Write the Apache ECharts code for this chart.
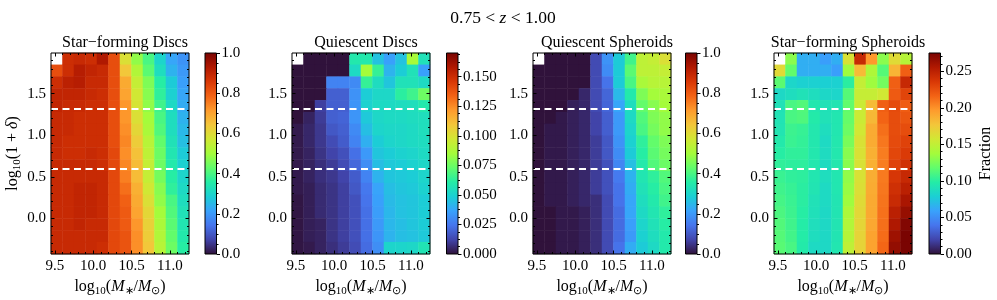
<!DOCTYPE html>
<html><head><meta charset="utf-8">
<script src="https://cdn.jsdelivr.net/npm/echarts@6/dist/echarts.min.js"></script>
<style>html,body{margin:0;padding:0;background:#fff}#c{width:997px;height:300px}</style>
</head><body><div id="c"></div>
<script>
// ---------------- DATA ----------------
const massBins = ['9.525','9.675','9.825','9.975','10.125','10.275','10.425','10.575','10.725','10.875','11.025','11.175'];
const densBins = ['-0.359','-0.217','-0.074','0.068','0.210','0.353','0.495','0.637','0.780','0.922','1.064','1.207','1.349','1.491','1.634','1.776','1.918'];
const massRange = [9.45, 11.25];
const densRange = [-0.43, 1.99];
const massTicks = [9.5, 10.0, 10.5, 11.0];
const densTicks = [0.0, 0.5, 1.0, 1.5];
const densityCuts = [1.32, 0.60];
const panelTitles = ['Star\u2212forming Discs', 'Quiescent Discs', 'Quiescent Spheroids', 'Star\u2212forming Spheroids'];
const cbarMax = [1.0, 0.17, 1.0, 0.275];
const cbarTicks = [
  [0.0, 0.2, 0.4, 0.6, 0.8, 1.0],
  [0.000, 0.025, 0.050, 0.075, 0.100, 0.125, 0.150],
  [0.0, 0.2, 0.4, 0.6, 0.8, 1.0],
  [0.00, 0.05, 0.10, 0.15, 0.20, 0.25]
];
const cbarDecimals = [1, 3, 1, 2];
const cbarMinorDiv = [4, 4, 4, 5];
const cbarLabel = ['', '', '', 'Fraction'];
// matplotlib "turbo" colormap sampled at 15 evenly spaced points
const turboStops = ['#30123b','#4145ab','#4675ed','#39a2fc','#1bcfd4','#24eca6','#61fc6c','#a4fc3b','#d1e834','#f3c63a','#fe9b2d','#f36315','#d93806','#b11901','#7a0402'];

// rows listed top (highest density) -> bottom, 12 mass bins each
const sfDiscs = [
  [null,0.88,0.89,0.88,0.93,0.82,0.59,0.48,0.40,0.30,0.22,0.19],
  [0.82,0.88,0.92,0.90,0.89,0.82,0.64,0.52,0.42,0.32,0.24,0.20],
  [0.88,0.91,0.92,0.89,0.89,0.82,0.69,0.55,0.46,0.36,0.28,0.21],
  [0.90,0.90,0.90,0.89,0.88,0.82,0.70,0.57,0.47,0.37,0.29,0.22],
  [0.90,0.89,0.89,0.88,0.88,0.82,0.72,0.58,0.48,0.39,0.31,0.23],
  [0.89,0.89,0.88,0.88,0.88,0.82,0.72,0.59,0.50,0.40,0.32,0.24],
  [0.89,0.89,0.88,0.88,0.88,0.82,0.73,0.61,0.51,0.41,0.32,0.25],
  [0.89,0.88,0.88,0.88,0.88,0.82,0.74,0.63,0.53,0.43,0.33,0.26],
  [0.89,0.88,0.88,0.89,0.88,0.83,0.73,0.65,0.54,0.44,0.34,0.28],
  [0.89,0.89,0.89,0.89,0.88,0.83,0.74,0.66,0.55,0.44,0.35,0.29],
  [0.89,0.89,0.89,0.89,0.89,0.83,0.75,0.66,0.55,0.45,0.36,0.30],
  [0.89,0.89,0.90,0.90,0.89,0.83,0.77,0.68,0.57,0.47,0.37,0.31],
  [0.89,0.89,0.90,0.90,0.89,0.83,0.79,0.69,0.59,0.48,0.40,0.32],
  [0.89,0.89,0.90,0.90,0.89,0.83,0.80,0.70,0.61,0.50,0.41,0.33],
  [0.89,0.89,0.90,0.89,0.89,0.83,0.80,0.72,0.62,0.51,0.42,0.34],
  [0.89,0.89,0.89,0.89,0.89,0.83,0.81,0.73,0.63,0.52,0.43,0.35],
  [0.89,0.89,0.89,0.89,0.88,0.83,0.81,0.73,0.64,0.53,0.44,0.36]
];
const qDiscs = [
  [null,0,0,0,0,0.059,0.059,0.045,0.036,0.045,0.086,0.056],
  [0,0,0,0,0,0.053,0.085,0.064,0.041,0.048,0.056,0.036],
  [0,0,0,0.028,0.028,0.030,0.064,0.054,0.046,0.056,0.056,0.053],
  [0,0,0,0.019,0.019,0.032,0.048,0.052,0.052,0.062,0.066,0.075],
  [0,0,0.011,0.019,0.019,0.033,0.050,0.053,0.053,0.054,0.055,0.059],
  [0,0.004,0.010,0.019,0.020,0.033,0.047,0.052,0.053,0.053,0.054,0.055],
  [0.002,0.005,0.009,0.017,0.019,0.030,0.044,0.051,0.052,0.052,0.053,0.055],
  [0.002,0.005,0.009,0.014,0.018,0.028,0.040,0.048,0.051,0.052,0.053,0.054],
  [0.002,0.004,0.008,0.012,0.015,0.023,0.034,0.046,0.048,0.050,0.051,0.053],
  [0.002,0.004,0.007,0.010,0.014,0.021,0.031,0.044,0.047,0.048,0.050,0.052],
  [0.002,0.004,0.007,0.009,0.012,0.018,0.028,0.041,0.046,0.047,0.048,0.051],
  [0.002,0.003,0.006,0.008,0.011,0.017,0.025,0.037,0.044,0.046,0.047,0.050],
  [0.001,0.003,0.006,0.008,0.011,0.015,0.024,0.036,0.043,0.045,0.046,0.048],
  [0.001,0.003,0.006,0.008,0.011,0.015,0.023,0.035,0.042,0.045,0.046,0.048],
  [0.001,0.003,0.004,0.008,0.011,0.015,0.023,0.034,0.042,0.044,0.046,0.048],
  [0.001,0.003,0.004,0.008,0.011,0.015,0.023,0.033,0.041,0.044,0.045,0.047],
  [0.001,0.002,0.004,0.007,0.010,0.014,0.022,0.031,0.051,0.051,0.052,0.057]
];
const qSpheroids = [
  [null,0,0,0,0,0.08,0.19,0.28,0.39,0.54,0.55,0.59],
  [0,0,0,0,0,0.08,0.18,0.28,0.42,0.54,0.54,0.55],
  [0,0,0,0,0,0.08,0.14,0.28,0.40,0.51,0.53,0.53],
  [0,0,0,0,0.03,0.08,0.12,0.25,0.35,0.46,0.50,0.51],
  [0,0,0,0.02,0.03,0.08,0.12,0.22,0.32,0.43,0.47,0.50],
  [0,0,0.01,0.02,0.03,0.07,0.11,0.20,0.31,0.41,0.46,0.48],
  [0,0.01,0.01,0.02,0.03,0.07,0.11,0.20,0.30,0.40,0.45,0.48],
  [0,0.01,0.01,0.02,0.03,0.06,0.10,0.19,0.29,0.37,0.43,0.46],
  [0,0.01,0.01,0.02,0.03,0.06,0.10,0.18,0.28,0.36,0.42,0.45],
  [0,0.01,0.01,0.02,0.03,0.06,0.09,0.17,0.26,0.35,0.41,0.44],
  [0,0.01,0.01,0.02,0.03,0.06,0.09,0.15,0.24,0.34,0.37,0.41],
  [0,0.01,0.01,0.02,0.03,0.06,0.09,0.14,0.23,0.33,0.36,0.40],
  [0,0.01,0.01,0.02,0.03,0.04,0.08,0.14,0.22,0.32,0.35,0.39],
  [0,0,0.01,0.01,0.02,0.04,0.08,0.13,0.22,0.31,0.34,0.37],
  [0,0,0.01,0.01,0.02,0.04,0.08,0.13,0.21,0.30,0.33,0.36],
  [0,0,0.01,0.01,0.02,0.04,0.08,0.13,0.20,0.29,0.32,0.35],
  [0,0,0.01,0.01,0.02,0.04,0.08,0.14,0.23,0.28,0.31,0.35]
];
const sfSpheroids = [
  [null,0.130,0.064,0.064,0.057,0.064,0.161,0.245,0.197,0.130,0.165,0.145],
  [0.166,0.118,0.064,0.064,0.064,0.057,0.136,0.182,0.142,0.114,0.185,0.218],
  [0.116,0.083,0.080,0.080,0.079,0.080,0.100,0.151,0.136,0.123,0.218,0.245],
  [0.085,0.088,0.091,0.088,0.084,0.083,0.114,0.152,0.152,0.157,0.220,0.230],
  [0.091,0.110,0.113,0.095,0.091,0.093,0.118,0.154,0.182,0.218,0.227,0.219],
  [0.092,0.110,0.112,0.097,0.091,0.094,0.119,0.154,0.183,0.216,0.226,0.222],
  [0.093,0.106,0.104,0.095,0.088,0.094,0.121,0.157,0.189,0.212,0.226,0.226],
  [0.096,0.105,0.103,0.095,0.086,0.095,0.125,0.161,0.189,0.209,0.227,0.231],
  [0.099,0.102,0.102,0.095,0.087,0.095,0.129,0.161,0.187,0.207,0.229,0.235],
  [0.102,0.101,0.101,0.095,0.087,0.095,0.130,0.161,0.187,0.207,0.231,0.240],
  [0.105,0.102,0.101,0.094,0.088,0.094,0.132,0.161,0.188,0.208,0.237,0.245],
  [0.107,0.104,0.100,0.093,0.086,0.094,0.134,0.163,0.189,0.209,0.241,0.251],
  [0.109,0.105,0.100,0.091,0.086,0.093,0.136,0.165,0.190,0.210,0.244,0.258],
  [0.111,0.106,0.099,0.090,0.085,0.093,0.141,0.167,0.190,0.211,0.251,0.265],
  [0.113,0.107,0.098,0.089,0.085,0.093,0.143,0.168,0.191,0.212,0.256,0.272],
  [0.114,0.108,0.098,0.088,0.085,0.093,0.145,0.169,0.193,0.213,0.262,0.275],
  [0.115,0.110,0.097,0.086,0.085,0.094,0.149,0.169,0.193,0.215,0.266,0.275]
];
const panels = [sfDiscs, qDiscs, qSpheroids, sfSpheroids];

// ---------------- LAYOUT / STYLE ----------------
const L = { plotLeft: [51, 292, 533, 774], plotW: 138, top: 53, plotH: 201, cbLeft: [205, 446.5, 685.5, 929], cbW: 11.5 };
const F = 'Liberation Serif';
const TICK_FS = 15;

function minorTicks(min, max, step, majorEvery) {
  const out = [];
  const k0 = Math.ceil(min / step - 1e-9), k1 = Math.floor(max / step + 1e-9);
  for (let k = k0; k <= k1; k++) if (k % majorEvery !== 0) out.push(+(k * step).toFixed(6));
  return out;
}
const rich = {
  n: {fontFamily: F, fontSize: 16, color: '#000', lineHeight: 20},
  i: {fontFamily: F, fontSize: 16, color: '#000', fontStyle: 'italic', lineHeight: 20},
  s: {fontFamily: F, fontSize: 11, color: '#000', lineHeight: 10, verticalAlign: 'bottom'}
};

function valAxis(gridIndex, pos, min, max, ticks, len, inside, labelFmt, extra) {
  return Object.assign({
    type: 'value', gridIndex, position: pos, min, max, z: 10,
    axisLine: {show: false, onZero: false}, splitLine: {show: false},
    axisTick: {show: true, inside, length: len, customValues: ticks, lineStyle: {color: '#000', width: 1}},
    axisLabel: labelFmt ? {show: true, customValues: ticks, formatter: labelFmt, color: '#000', fontFamily: F, fontSize: TICK_FS, margin: 5} : {show: false}
  }, extra || {});
}

const option = {animation: false, backgroundColor: '#fff', title: [], grid: [], xAxis: [], yAxis: [], visualMap: [], series: []};
option.title.push({text: '{n|0.75 < }{i|z}{n| < 1.00}', left: 498, top: 4, textAlign: 'center',
  textStyle: {fontFamily: F, fontSize: 17.5, fontWeight: 'normal', color: '#000',
    rich: {n: {fontFamily: F, fontSize: 17.5, color: '#000'}, i: {fontFamily: F, fontSize: 17.5, fontStyle: 'italic', color: '#000'}}}});

const xMinor = minorTicks(massRange[0], massRange[1], 0.1, 5);
const yMinor = minorTicks(densRange[0], densRange[1], 0.1, 5);

panels.forEach((mat, i) => {
  const g = option.grid.length;
  option.grid.push({left: L.plotLeft[i], top: L.top, width: L.plotW, height: L.plotH, show: true, z: 10,
    backgroundColor: 'transparent', borderColor: '#000', borderWidth: 1, outerBoundsMode: 'none'});
  option.title.push({text: panelTitles[i], left: L.plotLeft[i] + L.plotW / 2, top: 30, textAlign: 'center',
    textStyle: {fontFamily: F, fontSize: 16, fontWeight: 'normal', color: '#000'}});
  const cx = option.xAxis.length;
  option.xAxis.push({type: 'category', gridIndex: g, data: massBins, show: false});
  const cy = option.yAxis.length;
  option.yAxis.push({type: 'category', gridIndex: g, data: densBins, show: false});
  const vx = option.xAxis.length;
  option.xAxis.push(valAxis(g, 'bottom', massRange[0], massRange[1], massTicks, 3.5, true, v => v.toFixed(1), {
    name: '{n|log}{s|10}{n|(}{i|M}{s|\u2217}{n|/}{i|M}{s|\u2299}{n|)}', nameLocation: 'middle', nameGap: 19,
    nameTextStyle: {fontFamily: F, fontSize: 16, color: '#000', rich}}));
  option.xAxis.push(valAxis(g, 'bottom', massRange[0], massRange[1], xMinor, 2, true, null));
  option.xAxis.push(valAxis(g, 'top', massRange[0], massRange[1], massTicks, 3.5, true, null));
  option.xAxis.push(valAxis(g, 'top', massRange[0], massRange[1], xMinor, 2, true, null));
  const vy = option.yAxis.length;
  option.yAxis.push(valAxis(g, 'left', densRange[0], densRange[1], densTicks, 3.5, true, v => v.toFixed(1),
    i === 0 ? {name: '{n|log}{s|10}{n|(1 + }{i|\u03b4}{n|)}', nameLocation: 'middle', nameGap: 28, nameRotate: 90,
      nameTextStyle: {fontFamily: F, fontSize: 16, color: '#000', rich}} : {}));
  option.yAxis.push(valAxis(g, 'left', densRange[0], densRange[1], yMinor, 2, true, null));
  option.yAxis.push(valAxis(g, 'right', densRange[0], densRange[1], densTicks, 3.5, true, null));
  option.yAxis.push(valAxis(g, 'right', densRange[0], densRange[1], yMinor, 2, true, null));

  const data = [];
  mat.forEach((row, r) => row.forEach((v, c) => { if (v !== null) data.push([c, mat.length - 1 - r, v]); }));
  const hs = option.series.length;
  option.series.push({type: 'heatmap', xAxisIndex: cx, yAxisIndex: cy, data, silent: true, z: 1, progressive: 0});
  option.visualMap.push({type: 'continuous', show: false, min: 0, max: cbarMax[i], seriesIndex: hs, inRange: {color: turboStops}});
  option.series.push({type: 'line', xAxisIndex: vx, yAxisIndex: vy, data: [], z: 5, silent: true,
    markLine: {symbol: ['none', 'none'], silent: true, animation: false, label: {show: false},
      lineStyle: {color: '#fff', type: [7, 4.5], width: 2, opacity: 1},
      emphasis: {disabled: true},
      data: densityCuts.map(v => ({yAxis: v}))}});

  // colorbar
  const cg = option.grid.length;
  option.grid.push({left: L.cbLeft[i], top: L.top, width: L.cbW, height: L.plotH, show: true, z: 10,
    backgroundColor: 'transparent', borderColor: '#000', borderWidth: 1, outerBoundsMode: 'none'});
  const cbx = option.xAxis.length;
  option.xAxis.push({type: 'category', gridIndex: cg, data: [''], show: false});
  const cby = option.yAxis.length;
  const dec = cbarDecimals[i];
  const step = cbarTicks[i][1] - cbarTicks[i][0];
  const cbMinor = minorTicks(0, cbarMax[i], step / cbarMinorDiv[i], cbarMinorDiv[i]);
  option.yAxis.push(valAxis(cg, 'right', 0, cbarMax[i], cbarTicks[i], 3.5, false, v => v.toFixed(dec),
    cbarLabel[i] ? {name: cbarLabel[i], nameLocation: 'middle', nameGap: 37, nameRotate: 90,
      nameTextStyle: {fontFamily: F, fontSize: 16, color: '#000'}} : {}));
  option.yAxis.push(valAxis(cg, 'right', 0, cbarMax[i], cbMinor, 2, false, null));
  option.series.push({type: 'bar', xAxisIndex: cbx, yAxisIndex: cby, data: [cbarMax[i]], barWidth: '100%', silent: true, z: 1,
    itemStyle: {color: {type: 'linear', x: 0, y: 1, x2: 0, y2: 0,
      colorStops: turboStops.map((c, k) => ({offset: k / (turboStops.length - 1), color: c}))}}});
});

const chart = echarts.init(document.getElementById('c'), null, {renderer: 'canvas'});
chart.setOption(option);
</script>
</body></html>
